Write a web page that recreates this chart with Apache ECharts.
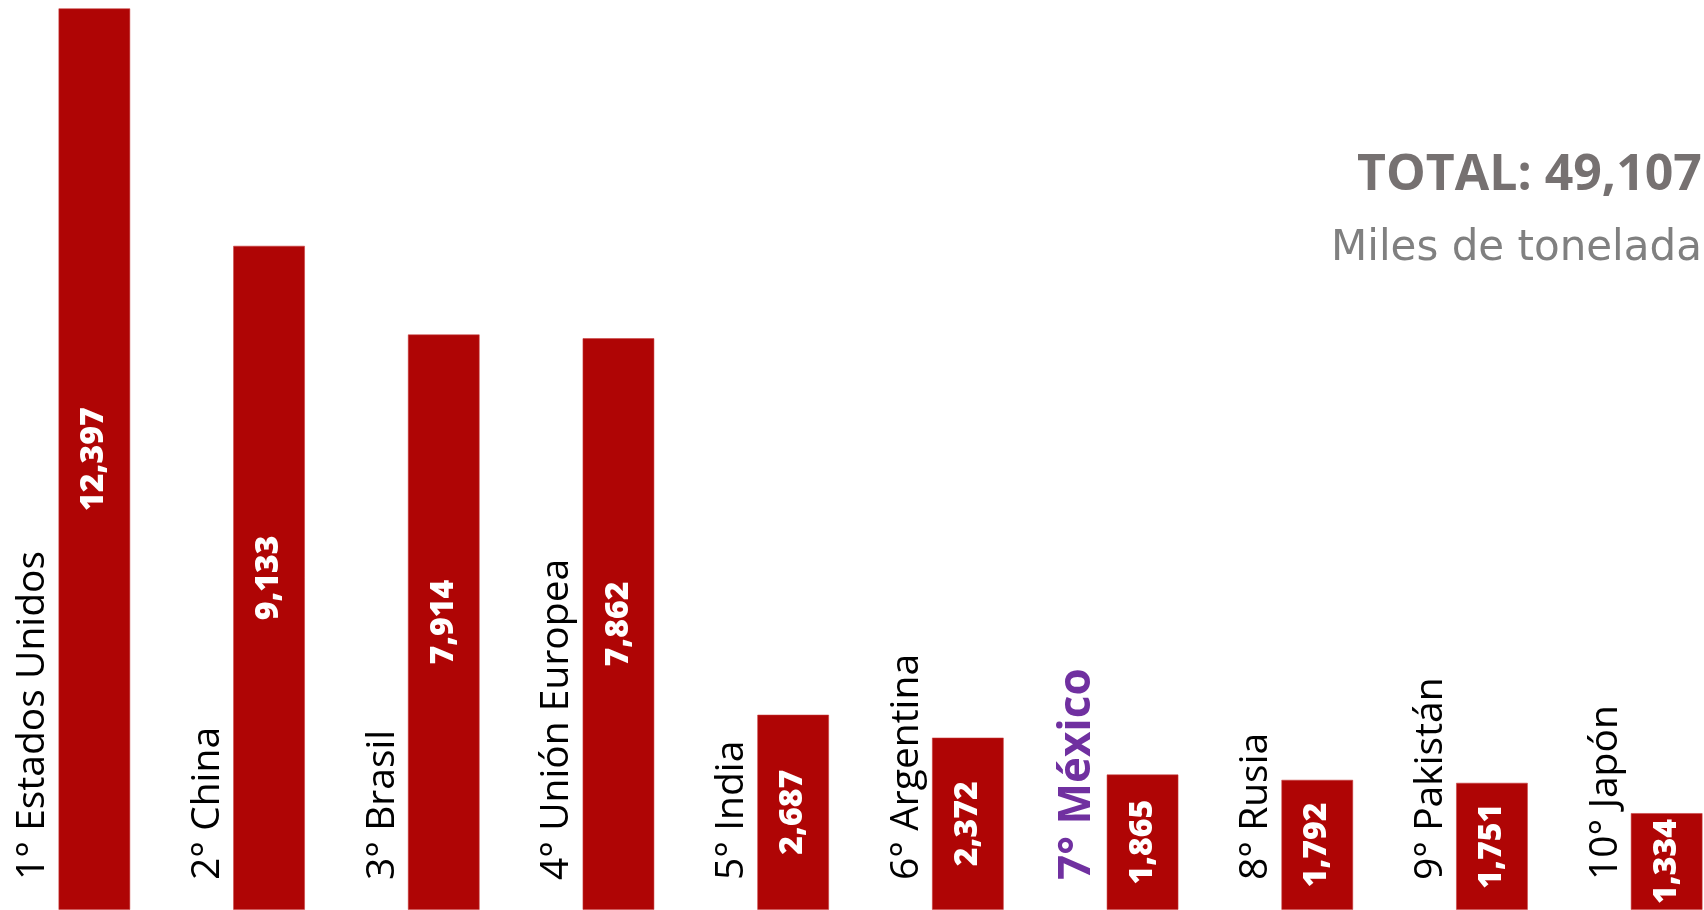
<!DOCTYPE html>
<html><head><meta charset="utf-8">
<script src="https://cdn.jsdelivr.net/npm/echarts@6/dist/echarts.min.js"></script>
<style>html,body{margin:0;padding:0;background:#fff}#c{width:1704px;height:910px}</style>
</head><body><div id="c"></div>
<script>
const categories = ['1° Estados Unidos','2° China','3° Brasil','4° Unión Europea','5° India','6° Argentina','7° México','8° Rusia','9° Pakistán','10° Japón'];
const values = [12397, 9133, 7914, 7862, 2687, 2372, 1865, 1792, 1751, 1334];
const highlighted = ['7° México'];
const totalLabel = 'TOTAL: 49,107';
const unitLabel = 'Miles de toneladas';
const yMax = 12510;

const chart = echarts.init(document.getElementById('c'), null, {renderer: 'canvas'});
chart.setOption({
  animation: false,
  backgroundColor: '#ffffff',
  title: [
    {text: totalLabel, left: 1357, top: 151, padding: 0,
     textStyle: {fontFamily: 'Open Sans', fontWeight: 'bold', fontSize: 50, color: '#767171'}},
    {text: unitLabel, left: 1331, top: 228, padding: 0,
     textStyle: {fontFamily: 'DejaVu Sans', fontWeight: 'normal', fontSize: 42, color: '#808080'}}
  ],
  grid: {left: 7, width: 1747, top: 0, bottom: 0, containLabel: false, outerBoundsMode: 'none'},
  xAxis: {type: 'category', data: categories, show: false},
  yAxis: {type: 'value', min: 0, max: yMax, show: false},
  series: [
    {
      type: 'bar', data: values, barWidth: 72,
      itemStyle: {color: '#AF0505', borderColor: 'rgba(200,60,60,0.55)', borderWidth: 1},
      label: {
        show: true, position: 'inside', rotate: 90, color: '#ffffff',
        fontFamily: 'Open Sans', fontWeight: 800, fontSize: 32,
        formatter: p => p.value.toLocaleString('en-US')
      }
    },
    {
      type: 'custom', silent: true, z: 5,
      data: categories.map((c, i) => [i, 0]),
      renderItem: (params, api) => {
        const pt = api.coord([api.value(0), 0]);
        const name = categories[params.dataIndex];
        const hl = highlighted.includes(name);
        const fs = hl ? 44 : 39;
        const gap = hl ? 53 : 50;
        return {
          type: 'text',
          x: pt[0] - gap - 0.285 * fs,
          y: pt[1] - 30,
          rotation: Math.PI / 2,
          style: {
            text: name, fill: hl ? '#7030A0' : '#000000',
            fontFamily: 'Open Sans', fontWeight: hl ? 'bold' : 'normal', fontSize: fs,
            align: 'left', verticalAlign: 'middle'
          }
        };
      }
    }
  ]
});
</script></body></html>
